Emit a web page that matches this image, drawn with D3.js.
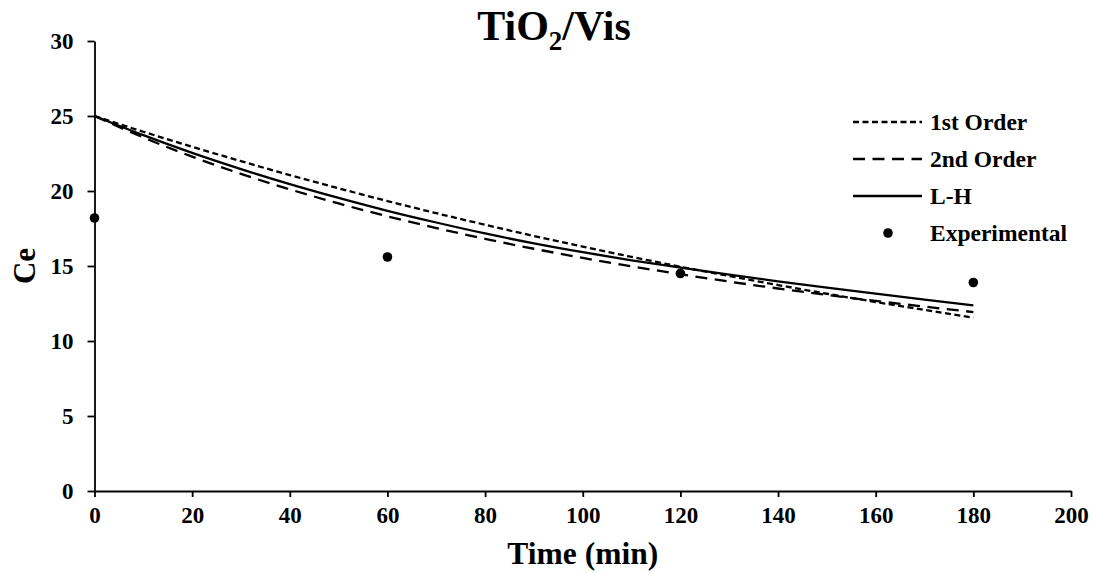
<!DOCTYPE html>
<html>
<head>
<meta charset="utf-8">
<script src="https://cdn.jsdelivr.net/npm/d3@7"></script>
<style>
  body { margin: 0; background: #fff; }
  text { font-family: "Liberation Serif", "Times New Roman", serif; font-weight: bold; fill: #000; }
</style>
</head>
<body>
<div id="chart"></div>
<script>
// values
var times = [0, 10, 20, 30, 40, 50, 60, 70, 80, 90, 100, 110, 120, 130, 140, 150, 160, 170, 180];
var firstOrder = [25.00, 23.95, 22.95, 21.99, 21.06, 20.18, 19.33, 18.52, 17.75, 17.00, 16.29, 15.61, 14.95, 14.33, 13.73, 13.15, 12.60, 12.07, 11.56];
var secondOrder = [25.00, 23.57, 22.29, 21.14, 20.11, 19.17, 18.31, 17.53, 16.81, 16.15, 15.54, 14.98, 14.45, 13.96, 13.50, 13.07, 12.67, 12.29, 11.93];
var lhModel = [25.00, 23.72, 22.54, 21.46, 20.46, 19.54, 18.68, 17.90, 17.17, 16.51, 15.92, 15.38, 14.90, 14.43, 13.98, 13.56, 13.16, 12.76, 12.38];
var expTimes = [0, 60, 120, 180];
var expValues = [18.2, 15.6, 14.5, 13.9];
var xTicks = [0, 20, 40, 60, 80, 100, 120, 140, 160, 180, 200];
var yTicks = [0, 5, 10, 15, 20, 25, 30];
var seriesNames = ["1st Order", "2nd Order", "L-H", "Experimental"];

var W = 1093, H = 573;
var margin = {top: 41, right: 22, bottom: 82, left: 94.5};
var width = W - margin.left - margin.right,
    height = H - margin.top - margin.bottom;

var svg = d3.select("#chart").append("svg").attr("width", W).attr("height", H);
var g = svg.append("g").attr("transform", "translate(" + margin.left + "," + margin.top + ")");

var x = d3.scaleLinear().domain([0, 200]).range([0, width]);
var y = d3.scaleLinear().domain([0, 30]).range([height, 0]);

// axes
var xAxis = g.append("g")
  .attr("transform", "translate(0," + height + ")")
  .call(d3.axisBottom(x).tickValues(xTicks).tickSize(6).tickSizeOuter(0).tickPadding(10));
var yAxis = g.append("g")
  .call(d3.axisLeft(y).tickValues(yTicks).tickSize(7).tickSizeOuter(0).tickPadding(14));

[xAxis, yAxis].forEach(function(a) {
  a.select(".domain").attr("stroke", "#000").attr("stroke-width", 1.8);
  a.selectAll(".tick line").attr("stroke", "#000").attr("stroke-width", 1.8);
  a.selectAll(".tick text").attr("font-family", "Liberation Serif, Times New Roman, serif")
    .attr("font-weight", "bold").attr("font-size", 23).attr("fill", "#000");
});

var dashes = ["6,3.5", "12,7.5", null];
var curves = [firstOrder, secondOrder, lhModel];

var line = d3.line()
  .x(function(d) { return x(d[0]); })
  .y(function(d) { return y(d[1]); })
  .curve(d3.curveMonotoneX);

curves.forEach(function(vals, i) {
  g.append("path")
    .datum(times.map(function(t, j) { return [t, vals[j]]; }))
    .attr("fill", "none")
    .attr("stroke", "#000")
    .attr("stroke-width", 2.3)
    .attr("stroke-dasharray", dashes[i])
    .attr("d", line);
});

g.selectAll(".exp")
  .data(expTimes)
  .enter().append("circle")
    .attr("class", "exp")
    .attr("cx", function(d) { return x(d); })
    .attr("cy", function(d, i) { return y(expValues[i]); })
    .attr("r", 4.8)
    .attr("fill", "#000");

// legend
var legend = svg.append("g").attr("transform", "translate(853,122)");
seriesNames.forEach(function(name, i) {
  var row = legend.append("g").attr("transform", "translate(0," + (i * 37) + ")");
  if (i < 3) {
    row.append("line")
      .attr("x1", 0).attr("x2", 69).attr("y1", 0).attr("y2", 0)
      .attr("stroke", "#000").attr("stroke-width", 2.3)
      .attr("stroke-dasharray", dashes[i]);
  } else {
    row.append("circle").attr("cx", 35).attr("cy", 0).attr("r", 4.8).attr("fill", "#000");
  }
  row.append("text")
    .attr("x", 77).attr("y", 0).attr("dy", "0.35em")
    .attr("font-size", 23.5)
    .text(name);
});

// title
var title = svg.append("text")
  .attr("x", 554).attr("y", 40)
  .attr("text-anchor", "middle")
  .attr("font-size", 42);
title.append("tspan").text("TiO");
title.append("tspan").attr("font-size", 27).attr("dy", 10).text("2");
title.append("tspan").attr("dy", -10).text("/Vis");

// axis titles
svg.append("text")
  .attr("x", margin.left + x(100)).attr("y", 564)
  .attr("text-anchor", "middle")
  .attr("font-size", 31.5)
  .text("Time (min)");

svg.append("text")
  .attr("transform", "translate(35," + (margin.top + height / 2) + ") rotate(-90)")
  .attr("text-anchor", "middle")
  .attr("font-size", 31)
  .text("Ce");
</script>
</body>
</html>
